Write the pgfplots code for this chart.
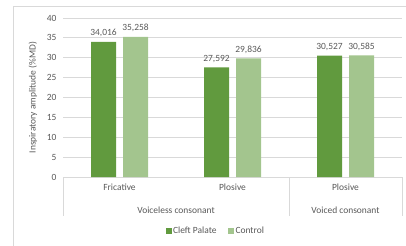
\documentclass[border=0pt]{standalone}
\usepackage{pgfplots}
\pgfplotsset{compat=1.18}
\usepackage{fontspec}
\setmainfont{Carlito}
\definecolor{darkg}{HTML}{619A3E}
\definecolor{lightg}{HTML}{A3C58E}
\definecolor{txt}{HTML}{595959}
\definecolor{gridc}{HTML}{D9D9D9}
\begin{document}
\begin{tikzpicture}[x=1bp,y=1bp]
\useasboundingbox (0,0) rectangle (406,246);
\draw[gridc,line width=0.8bp] (13,0) -- (13,240) -- (406,240);
\begin{axis}[
  at={(63bp,69bp)}, anchor=south west,
  scale only axis, width=339bp, height=159bp,
  ybar=7bp, bar width=25bp,
  xmin=-0.5, xmax=2.5, ymin=0, ymax=40,
  xtick={0,1,2}, xticklabels={Fricative,Plosive,Plosive},
  ytick={0,5,...,40},
  major tick length=0pt,
  axis line style={draw=none},
  ymajorgrids, grid style={gridc, line width=0.8bp},
  font=\fontsize{9.5}{11}\selectfont,
  ticklabel style={text=txt, font=\fontsize{9.5}{11}\selectfont},
  /pgf/number format/assume math mode=true,
  xticklabel style={yshift=-3bp},
  yticklabel style={xshift=-3bp},
  ylabel={Inspiratory amplitude (\%MD)},
  every axis y label/.style={at={(axis description cs:-0.0885,0.5)}, rotate=90, anchor=center, text=txt, font=\fontsize{9.5}{11}\selectfont},
  nodes near coords,
  every node near coord/.append style={text=txt, font=\fontsize{9.5}{11}\selectfont, yshift=1.5bp,
     /pgf/number format/.cd, use comma, fixed, fixed zerofill, precision=3, 1000 sep={}, assume math mode=true},
  clip=false,
  legend columns=2,
  legend style={at={(axis description cs:0.4499,-0.3396)}, anchor=center, draw=none, fill=none,
     font=\fontsize{9.5}{11}\selectfont, text=txt,
     /tikz/every even column/.append style={column sep=10bp},
     nodes={inner sep=1.5bp}},
  legend image code/.code={\fill[#1,draw=none] (0bp,-3bp) rectangle (6bp,3bp);},
]
\addplot[fill=darkg, draw=none] coordinates {(0,34.016) (1,27.592) (2,30.527)};
\addplot[fill=lightg, draw=none] coordinates {(0,35.258) (1,29.836) (2,30.585)};
\legend{Cleft Palate, Control}
\draw[gridc, line width=0.8bp] (axis cs:-0.5,0) -- ([yshift=-39bp]axis cs:-0.5,0);
\draw[gridc, line width=0.8bp] (axis cs:1.5,0) -- ([yshift=-39bp]axis cs:1.5,0);
\draw[gridc, line width=0.8bp] (axis cs:2.5,0) -- ([yshift=-39bp]axis cs:2.5,0);
\node[text=txt, font=\fontsize{9.5}{11}\selectfont] at ([yshift=-33bp]axis cs:0.5,0) {Voiceless consonant};
\node[text=txt, font=\fontsize{9.5}{11}\selectfont] at ([yshift=-33bp]axis cs:2,0) {Voiced consonant};
\end{axis}
\end{tikzpicture}
\end{document}
